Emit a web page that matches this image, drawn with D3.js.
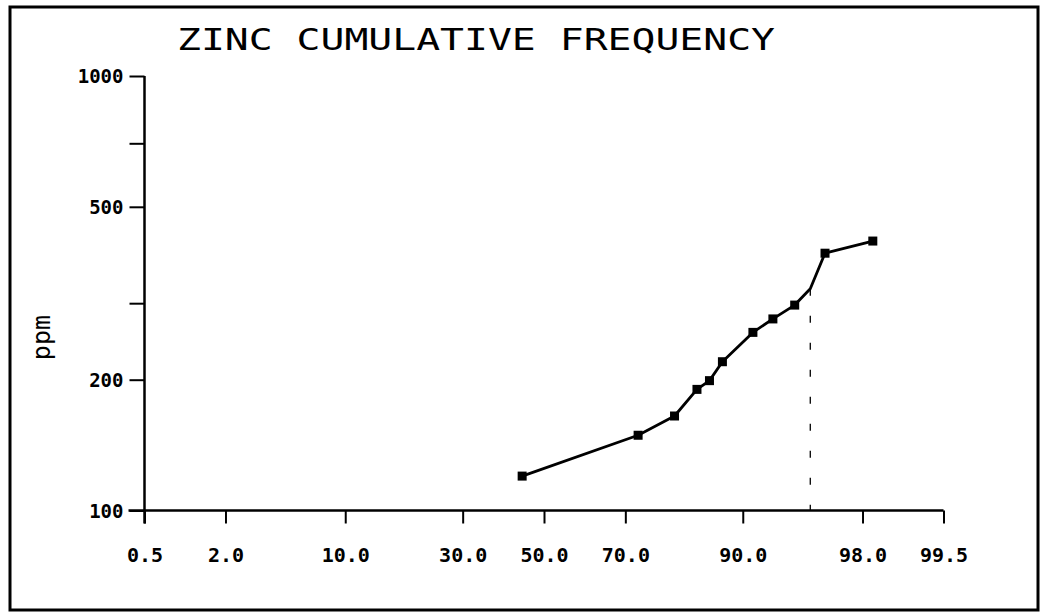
<!DOCTYPE html>
<html>
<head>
<meta charset="utf-8">
<script src="https://cdn.jsdelivr.net/npm/d3@7"></script>
<style>
  body { margin: 0; background: #fff; }
  svg { display: block; }
  .tick text { font-family: "DejaVu Sans Mono", monospace; font-weight: bold; }
</style>
</head>
<body>
<div id="chart"></div>
<script>
// cumulative frequency (%) and zinc content (ppm)
var percentiles = [44.4, 72.8, 80.0, 83.8, 85.7, 87.5, 91.1, 93.0, 94.7, 96.5, 98.3];
var ppmValues = [120, 149, 165, 190, 199, 220, 257, 276, 297, 391, 417];

// threshold marked on the curve with a dashed drop line
var thresholdPct = [95.7];
var thresholdPpm = [324];

var xTicks = [0.5, 2.0, 10.0, 30.0, 50.0, 70.0, 90.0, 98.0, 99.5];
var yTicks = [100, 200, 300, 500, 700, 1000];
var yLabels = [100, 200, 500, 1000];

var W = 1041, H = 613;

// inverse normal cdf (Acklam) - gives probability paper spacing
function probit(p) {
    var a = [-3.969683028665376e+01, 2.209460984245205e+02, -2.759285104469687e+02, 1.383577518672690e+02, -3.066479806614716e+01, 2.506628277459239e+00],
        b = [-5.447609879822406e+01, 1.615858368580409e+02, -1.556989798598866e+02, 6.680131188771972e+01, -1.328068155288572e+01],
        c = [-7.784894002430293e-03, -3.223964580411365e-01, -2.400758277161838e+00, -2.549732539343734e+00, 4.374664141464968e+00, 2.938163982698783e+00],
        d = [7.784695709041462e-03, 3.224671290700398e-01, 2.445134137142996e+00, 3.754408661907416e+00];
    var pl = 0.02425, q, r;
    if (p < pl) {
        q = Math.sqrt(-2 * Math.log(p));
        return (((((c[0]*q+c[1])*q+c[2])*q+c[3])*q+c[4])*q+c[5]) / ((((d[0]*q+d[1])*q+d[2])*q+d[3])*q+1);
    } else if (p <= 1 - pl) {
        q = p - 0.5; r = q * q;
        return (((((a[0]*r+a[1])*r+a[2])*r+a[3])*r+a[4])*r+a[5])*q / (((((b[0]*r+b[1])*r+b[2])*r+b[3])*r+b[4])*r+1);
    } else {
        q = Math.sqrt(-2 * Math.log(1 - p));
        return -(((((c[0]*q+c[1])*q+c[2])*q+c[3])*q+c[4])*q+c[5]) / ((((d[0]*q+d[1])*q+d[2])*q+d[3])*q+1);
    }
}

// setup x (probability) and y (log)
var zScale = d3.scaleLinear().domain([probit(0.005), probit(0.995)]).range([144.5, 943.5]);
var xScale = function (p) { return zScale(probit(p / 100)); };
var yScale = d3.scaleLog().domain([100, 1000]).range([510.5, 76]);

var svg = d3.select("#chart").append("svg")
    .attr("width", W)
    .attr("height", H);

// outer frame
svg.append("rect")
    .attr("x", 10).attr("y", 7)
    .attr("width", 1028).attr("height", 603)
    .attr("fill", "none")
    .attr("stroke", "#000")
    .attr("stroke-width", 3);

// title
svg.append("text")
    .attr("x", 177)
    .attr("y", 50)
    .attr("textLength", 598)
    .attr("lengthAdjust", "spacingAndGlyphs")
    .style("font-family", "'DejaVu Sans Mono', monospace")
    .style("font-size", "30px")
    .text("ZINC CUMULATIVE FREQUENCY");

// y-axis
var yAxis = d3.axisLeft(yScale)
    .tickValues(yTicks)
    .tickSize(15)
    .tickSizeOuter(0)
    .tickPadding(6)
    .tickFormat(function (d) { return yLabels.indexOf(d) >= 0 ? d : ""; });

var gy = svg.append("g")
    .attr("class", "y axis")
    .attr("transform", "translate(" + zScale.range()[0] + ",0)")
    .call(yAxis);
gy.select(".domain").remove();
gy.selectAll(".tick line").attr("stroke-width", 2);
gy.selectAll(".tick text").style("font-size", "19px").attr("dy", "0.35em");
gy.append("line")
    .attr("x1", 0).attr("x2", 0)
    .attr("y1", yScale(1000)).attr("y2", yScale(100) + 13)
    .attr("stroke", "#000").attr("stroke-width", 2.5);

svg.append("text")
    .attr("transform", "translate(50," + yScale(250) + ") rotate(-90)")
    .attr("text-anchor", "middle")
    .attr("fill", "#000")
    .style("font-family", "'DejaVu Sans Mono', monospace")
    .style("font-size", "25px")
    .text("ppm");

// x-axis
var xAxis = d3.axisBottom(zScale)
    .tickValues(xTicks.map(function (p) { return probit(p / 100); }))
    .tickSize(13)
    .tickSizeOuter(0)
    .tickPadding(24)
    .tickFormat(function (d, i) { return xTicks[i].toFixed(1); });

var gx = svg.append("g")
    .attr("class", "x axis")
    .attr("transform", "translate(0," + yScale(100) + ")")
    .call(xAxis);
gx.select(".domain").remove();
gx.selectAll(".tick line").attr("stroke-width", 2);
gx.selectAll(".tick text").style("font-size", "20px");
gx.append("line")
    .attr("x1", zScale.range()[0] - 16).attr("x2", zScale.range()[1])
    .attr("y1", 0).attr("y2", 0)
    .attr("stroke", "#000").attr("stroke-width", 2.5);

// dashed drop line at the threshold
svg.append("line")
    .attr("x1", xScale(thresholdPct[0])).attr("x2", xScale(thresholdPct[0]))
    .attr("y1", yScale(thresholdPpm[0])).attr("y2", yScale(100))
    .attr("stroke", "#000")
    .attr("stroke-width", 1.3)
    .attr("stroke-dasharray", "7,20");

// curve through the points (threshold vertex included)
var pts = percentiles.map(function (p, i) { return { p: p, v: ppmValues[i] }; });
var linePts = pts.concat([{ p: thresholdPct[0], v: thresholdPpm[0] }])
    .sort(function (a, b) { return a.p - b.p; });

var line = d3.line()
    .x(function (d) { return xScale(d.p); })
    .y(function (d) { return yScale(d.v); });

svg.append("path")
    .datum(linePts)
    .attr("d", line)
    .attr("fill", "none")
    .attr("stroke", "#000")
    .attr("stroke-width", 2.8)
    .attr("stroke-linejoin", "round");

svg.selectAll(".pt")
    .data(pts)
    .enter().append("rect")
    .attr("class", "pt")
    .attr("x", function (d) { return xScale(d.p) - 4.5; })
    .attr("y", function (d) { return yScale(d.v) - 4.5; })
    .attr("width", 9)
    .attr("height", 9)
    .attr("fill", "#000");
</script>
</body>
</html>
